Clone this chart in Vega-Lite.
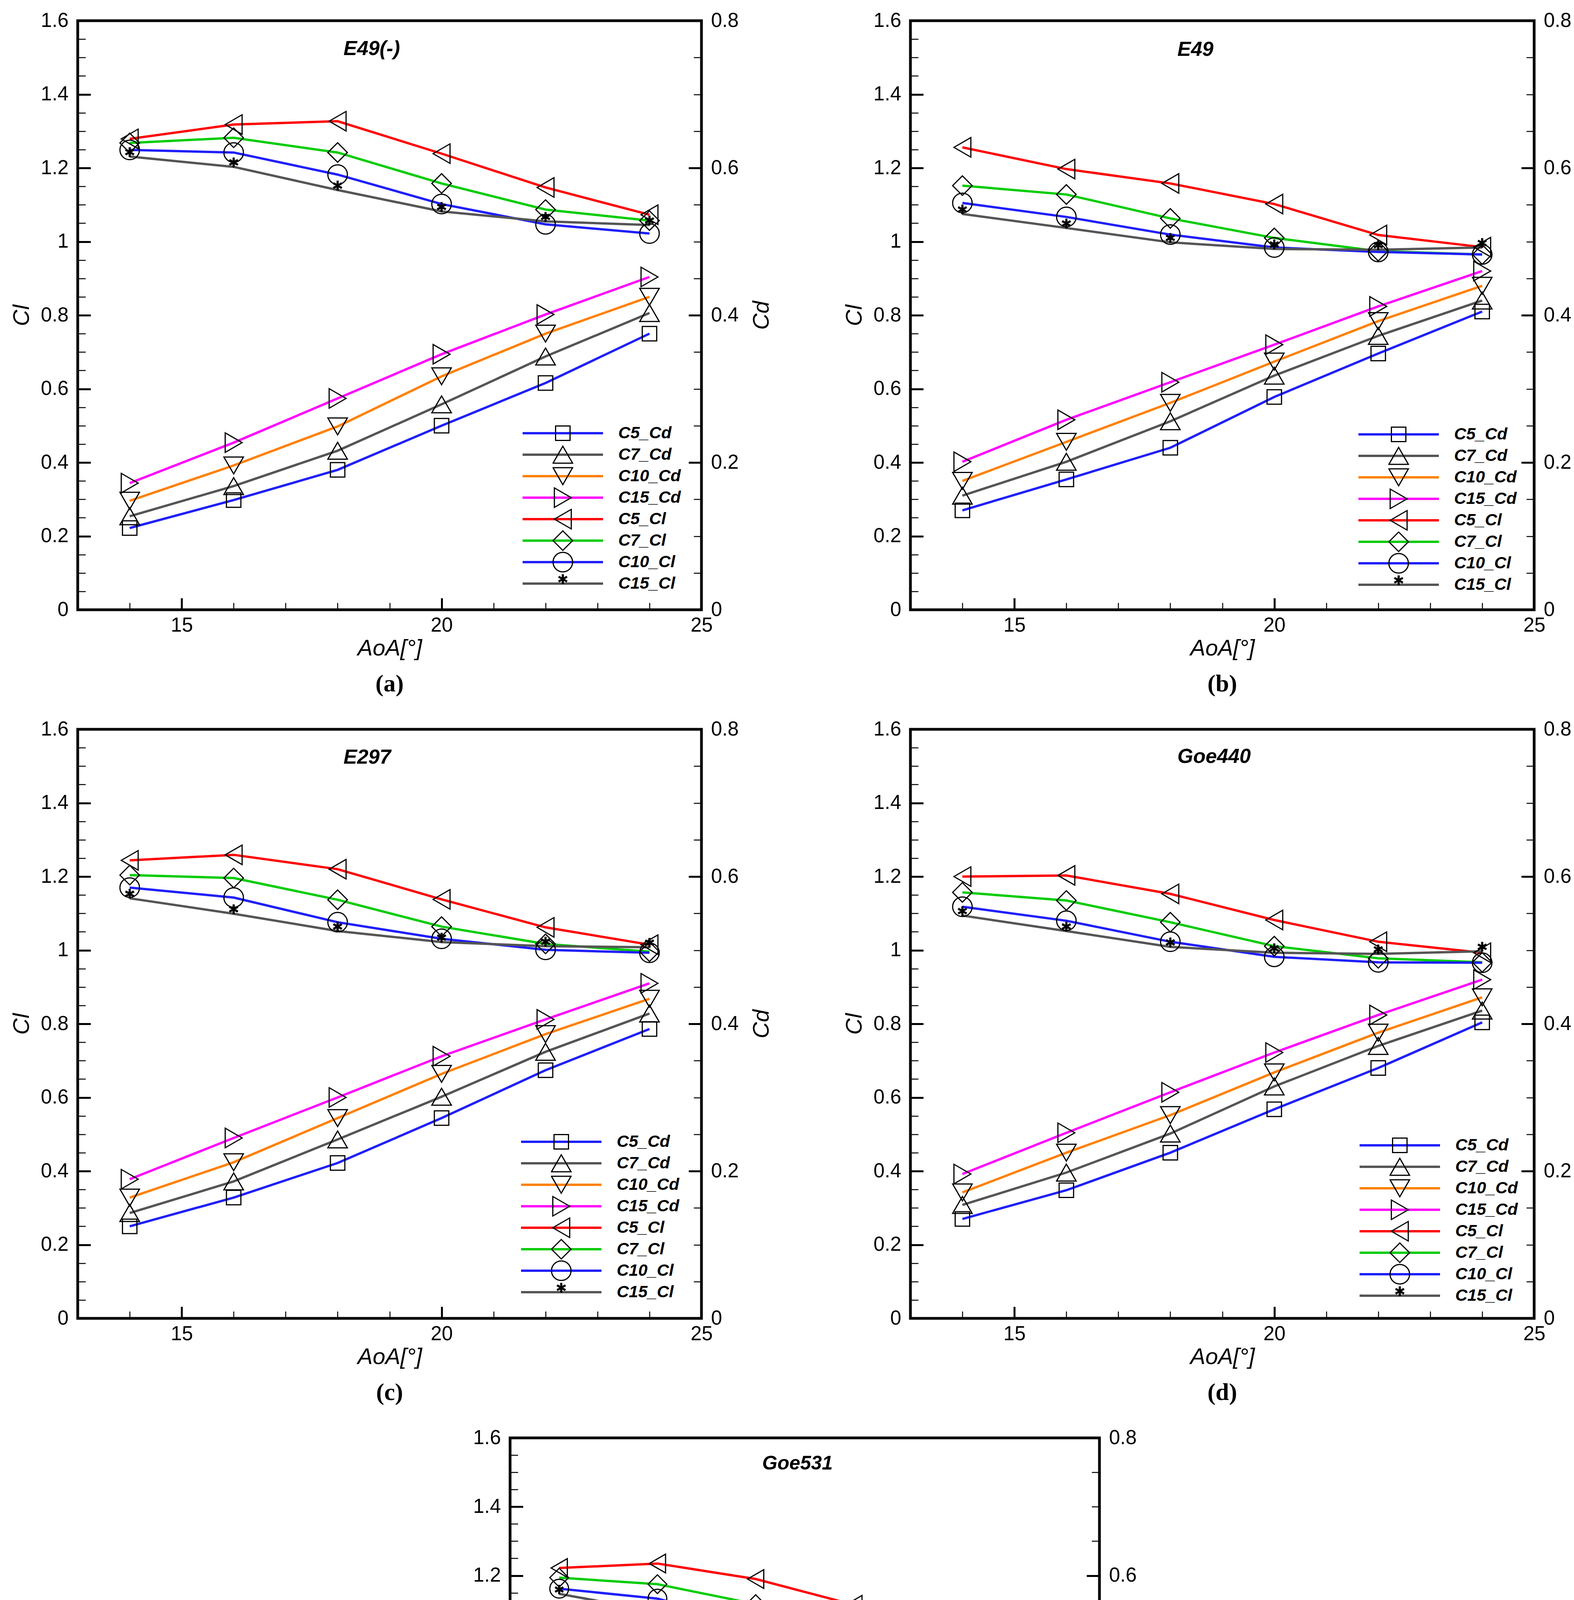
{
  "$schema": "https://vega.github.io/schema/vega-lite/v6.json",
  "description": "Cl and Cd against AoA for five airfoils, four configurations each.",
  "background": "white",
  "padding": {"left": 23, "top": 23, "right": 0, "bottom": 0},
  "datasets": {
    "a_cl": [
      {"aoa": 14, "series": "C5_Cl", "cl": 1.279}, {"aoa": 16, "series": "C5_Cl", "cl": 1.318}, {"aoa": 18, "series": "C5_Cl", "cl": 1.327}, {"aoa": 20, "series": "C5_Cl", "cl": 1.239}, {"aoa": 22, "series": "C5_Cl", "cl": 1.147}, {"aoa": 24, "series": "C5_Cl", "cl": 1.073},
      {"aoa": 14, "series": "C7_Cl", "cl": 1.268}, {"aoa": 16, "series": "C7_Cl", "cl": 1.282}, {"aoa": 18, "series": "C7_Cl", "cl": 1.242}, {"aoa": 20, "series": "C7_Cl", "cl": 1.158}, {"aoa": 22, "series": "C7_Cl", "cl": 1.087}, {"aoa": 24, "series": "C7_Cl", "cl": 1.057},
      {"aoa": 14, "series": "C10_Cl", "cl": 1.249}, {"aoa": 16, "series": "C10_Cl", "cl": 1.242}, {"aoa": 18, "series": "C10_Cl", "cl": 1.182}, {"aoa": 20, "series": "C10_Cl", "cl": 1.102}, {"aoa": 22, "series": "C10_Cl", "cl": 1.047}, {"aoa": 24, "series": "C10_Cl", "cl": 1.022},
      {"aoa": 14, "series": "C15_Cl", "cl": 1.231}, {"aoa": 16, "series": "C15_Cl", "cl": 1.203}, {"aoa": 18, "series": "C15_Cl", "cl": 1.14}, {"aoa": 20, "series": "C15_Cl", "cl": 1.082}, {"aoa": 22, "series": "C15_Cl", "cl": 1.055}, {"aoa": 24, "series": "C15_Cl", "cl": 1.045}
    ],
    "a_cd": [
      {"aoa": 14, "series": "C5_Cd", "cd": 0.111}, {"aoa": 16, "series": "C5_Cd", "cd": 0.149}, {"aoa": 18, "series": "C5_Cd", "cd": 0.19}, {"aoa": 20, "series": "C5_Cd", "cd": 0.25}, {"aoa": 22, "series": "C5_Cd", "cd": 0.308}, {"aoa": 24, "series": "C5_Cd", "cd": 0.375},
      {"aoa": 14, "series": "C7_Cd", "cd": 0.127}, {"aoa": 16, "series": "C7_Cd", "cd": 0.168}, {"aoa": 18, "series": "C7_Cd", "cd": 0.216}, {"aoa": 20, "series": "C7_Cd", "cd": 0.279}, {"aoa": 22, "series": "C7_Cd", "cd": 0.344}, {"aoa": 24, "series": "C7_Cd", "cd": 0.403},
      {"aoa": 14, "series": "C10_Cd", "cd": 0.148}, {"aoa": 16, "series": "C10_Cd", "cd": 0.196}, {"aoa": 18, "series": "C10_Cd", "cd": 0.249}, {"aoa": 20, "series": "C10_Cd", "cd": 0.317}, {"aoa": 22, "series": "C10_Cd", "cd": 0.375}, {"aoa": 24, "series": "C10_Cd", "cd": 0.425},
      {"aoa": 14, "series": "C15_Cd", "cd": 0.172}, {"aoa": 16, "series": "C15_Cd", "cd": 0.227}, {"aoa": 18, "series": "C15_Cd", "cd": 0.287}, {"aoa": 20, "series": "C15_Cd", "cd": 0.347}, {"aoa": 22, "series": "C15_Cd", "cd": 0.401}, {"aoa": 24, "series": "C15_Cd", "cd": 0.452}
    ],
    "b_cl": [
      {"aoa": 14, "series": "C5_Cl", "cl": 1.256}, {"aoa": 16, "series": "C5_Cl", "cl": 1.197}, {"aoa": 18, "series": "C5_Cl", "cl": 1.158}, {"aoa": 20, "series": "C5_Cl", "cl": 1.102}, {"aoa": 22, "series": "C5_Cl", "cl": 1.018}, {"aoa": 24, "series": "C5_Cl", "cl": 0.985},
      {"aoa": 14, "series": "C7_Cl", "cl": 1.152}, {"aoa": 16, "series": "C7_Cl", "cl": 1.128}, {"aoa": 18, "series": "C7_Cl", "cl": 1.063}, {"aoa": 20, "series": "C7_Cl", "cl": 1.01}, {"aoa": 22, "series": "C7_Cl", "cl": 0.974}, {"aoa": 24, "series": "C7_Cl", "cl": 0.965},
      {"aoa": 14, "series": "C10_Cl", "cl": 1.105}, {"aoa": 16, "series": "C10_Cl", "cl": 1.067}, {"aoa": 18, "series": "C10_Cl", "cl": 1.019}, {"aoa": 20, "series": "C10_Cl", "cl": 0.984}, {"aoa": 22, "series": "C10_Cl", "cl": 0.972}, {"aoa": 24, "series": "C10_Cl", "cl": 0.965},
      {"aoa": 14, "series": "C15_Cl", "cl": 1.075}, {"aoa": 16, "series": "C15_Cl", "cl": 1.037}, {"aoa": 18, "series": "C15_Cl", "cl": 0.998}, {"aoa": 20, "series": "C15_Cl", "cl": 0.98}, {"aoa": 22, "series": "C15_Cl", "cl": 0.978}, {"aoa": 24, "series": "C15_Cl", "cl": 0.984}
    ],
    "b_cd": [
      {"aoa": 14, "series": "C5_Cd", "cd": 0.135}, {"aoa": 16, "series": "C5_Cd", "cd": 0.177}, {"aoa": 18, "series": "C5_Cd", "cd": 0.22}, {"aoa": 20, "series": "C5_Cd", "cd": 0.289}, {"aoa": 22, "series": "C5_Cd", "cd": 0.348}, {"aoa": 24, "series": "C5_Cd", "cd": 0.405},
      {"aoa": 14, "series": "C7_Cd", "cd": 0.155}, {"aoa": 16, "series": "C7_Cd", "cd": 0.201}, {"aoa": 18, "series": "C7_Cd", "cd": 0.256}, {"aoa": 20, "series": "C7_Cd", "cd": 0.318}, {"aoa": 22, "series": "C7_Cd", "cd": 0.372}, {"aoa": 24, "series": "C7_Cd", "cd": 0.42},
      {"aoa": 14, "series": "C10_Cd", "cd": 0.175}, {"aoa": 16, "series": "C10_Cd", "cd": 0.228}, {"aoa": 18, "series": "C10_Cd", "cd": 0.281}, {"aoa": 20, "series": "C10_Cd", "cd": 0.337}, {"aoa": 22, "series": "C10_Cd", "cd": 0.392}, {"aoa": 24, "series": "C10_Cd", "cd": 0.44},
      {"aoa": 14, "series": "C15_Cd", "cd": 0.201}, {"aoa": 16, "series": "C15_Cd", "cd": 0.258}, {"aoa": 18, "series": "C15_Cd", "cd": 0.309}, {"aoa": 20, "series": "C15_Cd", "cd": 0.36}, {"aoa": 22, "series": "C15_Cd", "cd": 0.412}, {"aoa": 24, "series": "C15_Cd", "cd": 0.46}
    ],
    "c_cl": [
      {"aoa": 14, "series": "C5_Cl", "cl": 1.244}, {"aoa": 16, "series": "C5_Cl", "cl": 1.259}, {"aoa": 18, "series": "C5_Cl", "cl": 1.22}, {"aoa": 20, "series": "C5_Cl", "cl": 1.138}, {"aoa": 22, "series": "C5_Cl", "cl": 1.062}, {"aoa": 24, "series": "C5_Cl", "cl": 1.015},
      {"aoa": 14, "series": "C7_Cl", "cl": 1.204}, {"aoa": 16, "series": "C7_Cl", "cl": 1.196}, {"aoa": 18, "series": "C7_Cl", "cl": 1.137}, {"aoa": 20, "series": "C7_Cl", "cl": 1.064}, {"aoa": 22, "series": "C7_Cl", "cl": 1.017}, {"aoa": 24, "series": "C7_Cl", "cl": 0.996},
      {"aoa": 14, "series": "C10_Cl", "cl": 1.17}, {"aoa": 16, "series": "C10_Cl", "cl": 1.143}, {"aoa": 18, "series": "C10_Cl", "cl": 1.076}, {"aoa": 20, "series": "C10_Cl", "cl": 1.031}, {"aoa": 22, "series": "C10_Cl", "cl": 1.001}, {"aoa": 24, "series": "C10_Cl", "cl": 0.993},
      {"aoa": 14, "series": "C15_Cl", "cl": 1.141}, {"aoa": 16, "series": "C15_Cl", "cl": 1.099}, {"aoa": 18, "series": "C15_Cl", "cl": 1.052}, {"aoa": 20, "series": "C15_Cl", "cl": 1.022}, {"aoa": 22, "series": "C15_Cl", "cl": 1.011}, {"aoa": 24, "series": "C15_Cl", "cl": 1.008}
    ],
    "c_cd": [
      {"aoa": 14, "series": "C5_Cd", "cd": 0.125}, {"aoa": 16, "series": "C5_Cd", "cd": 0.164}, {"aoa": 18, "series": "C5_Cd", "cd": 0.211}, {"aoa": 20, "series": "C5_Cd", "cd": 0.272}, {"aoa": 22, "series": "C5_Cd", "cd": 0.337}, {"aoa": 24, "series": "C5_Cd", "cd": 0.393},
      {"aoa": 14, "series": "C7_Cd", "cd": 0.143}, {"aoa": 16, "series": "C7_Cd", "cd": 0.186}, {"aoa": 18, "series": "C7_Cd", "cd": 0.243}, {"aoa": 20, "series": "C7_Cd", "cd": 0.301}, {"aoa": 22, "series": "C7_Cd", "cd": 0.362}, {"aoa": 24, "series": "C7_Cd", "cd": 0.414},
      {"aoa": 14, "series": "C10_Cd", "cd": 0.164}, {"aoa": 16, "series": "C10_Cd", "cd": 0.212}, {"aoa": 18, "series": "C10_Cd", "cd": 0.272}, {"aoa": 20, "series": "C10_Cd", "cd": 0.332}, {"aoa": 22, "series": "C10_Cd", "cd": 0.386}, {"aoa": 24, "series": "C10_Cd", "cd": 0.434},
      {"aoa": 14, "series": "C15_Cd", "cd": 0.189}, {"aoa": 16, "series": "C15_Cd", "cd": 0.245}, {"aoa": 18, "series": "C15_Cd", "cd": 0.3}, {"aoa": 20, "series": "C15_Cd", "cd": 0.356}, {"aoa": 22, "series": "C15_Cd", "cd": 0.406}, {"aoa": 24, "series": "C15_Cd", "cd": 0.455}
    ],
    "d_cl": [
      {"aoa": 14, "series": "C5_Cl", "cl": 1.2}, {"aoa": 16, "series": "C5_Cl", "cl": 1.203}, {"aoa": 18, "series": "C5_Cl", "cl": 1.153}, {"aoa": 20, "series": "C5_Cl", "cl": 1.082}, {"aoa": 22, "series": "C5_Cl", "cl": 1.023}, {"aoa": 24, "series": "C5_Cl", "cl": 0.993},
      {"aoa": 14, "series": "C7_Cl", "cl": 1.157}, {"aoa": 16, "series": "C7_Cl", "cl": 1.135}, {"aoa": 18, "series": "C7_Cl", "cl": 1.076}, {"aoa": 20, "series": "C7_Cl", "cl": 1.011}, {"aoa": 22, "series": "C7_Cl", "cl": 0.978}, {"aoa": 24, "series": "C7_Cl", "cl": 0.967},
      {"aoa": 14, "series": "C10_Cl", "cl": 1.118}, {"aoa": 16, "series": "C10_Cl", "cl": 1.08}, {"aoa": 18, "series": "C10_Cl", "cl": 1.023}, {"aoa": 20, "series": "C10_Cl", "cl": 0.982}, {"aoa": 22, "series": "C10_Cl", "cl": 0.967}, {"aoa": 24, "series": "C10_Cl", "cl": 0.966},
      {"aoa": 14, "series": "C15_Cl", "cl": 1.094}, {"aoa": 16, "series": "C15_Cl", "cl": 1.052}, {"aoa": 18, "series": "C15_Cl", "cl": 1.009}, {"aoa": 20, "series": "C15_Cl", "cl": 0.993}, {"aoa": 22, "series": "C15_Cl", "cl": 0.99}, {"aoa": 24, "series": "C15_Cl", "cl": 0.997}
    ],
    "d_cd": [
      {"aoa": 14, "series": "C5_Cd", "cd": 0.135}, {"aoa": 16, "series": "C5_Cd", "cd": 0.174}, {"aoa": 18, "series": "C5_Cd", "cd": 0.225}, {"aoa": 20, "series": "C5_Cd", "cd": 0.284}, {"aoa": 22, "series": "C5_Cd", "cd": 0.34}, {"aoa": 24, "series": "C5_Cd", "cd": 0.402},
      {"aoa": 14, "series": "C7_Cd", "cd": 0.154}, {"aoa": 16, "series": "C7_Cd", "cd": 0.198}, {"aoa": 18, "series": "C7_Cd", "cd": 0.251}, {"aoa": 20, "series": "C7_Cd", "cd": 0.315}, {"aoa": 22, "series": "C7_Cd", "cd": 0.37}, {"aoa": 24, "series": "C7_Cd", "cd": 0.418},
      {"aoa": 14, "series": "C10_Cd", "cd": 0.171}, {"aoa": 16, "series": "C10_Cd", "cd": 0.225}, {"aoa": 18, "series": "C10_Cd", "cd": 0.276}, {"aoa": 20, "series": "C10_Cd", "cd": 0.334}, {"aoa": 22, "series": "C10_Cd", "cd": 0.388}, {"aoa": 24, "series": "C10_Cd", "cd": 0.436},
      {"aoa": 14, "series": "C15_Cd", "cd": 0.196}, {"aoa": 16, "series": "C15_Cd", "cd": 0.252}, {"aoa": 18, "series": "C15_Cd", "cd": 0.307}, {"aoa": 20, "series": "C15_Cd", "cd": 0.361}, {"aoa": 22, "series": "C15_Cd", "cd": 0.412}, {"aoa": 24, "series": "C15_Cd", "cd": 0.46}
    ],
    "e_cl": [
      {"aoa": 14, "series": "C5_Cl", "cl": 1.222}, {"aoa": 16, "series": "C5_Cl", "cl": 1.235}, {"aoa": 18, "series": "C5_Cl", "cl": 1.19}, {"aoa": 20, "series": "C5_Cl", "cl": 1.115}, {"aoa": 22, "series": "C5_Cl", "cl": 1.079}, {"aoa": 24, "series": "C5_Cl", "cl": 1.003},
      {"aoa": 14, "series": "C7_Cl", "cl": 1.194}, {"aoa": 16, "series": "C7_Cl", "cl": 1.175}, {"aoa": 18, "series": "C7_Cl", "cl": 1.117}, {"aoa": 20, "series": "C7_Cl", "cl": 1.045}, {"aoa": 22, "series": "C7_Cl", "cl": 1.0}, {"aoa": 24, "series": "C7_Cl", "cl": 0.974},
      {"aoa": 14, "series": "C10_Cl", "cl": 1.162}, {"aoa": 16, "series": "C10_Cl", "cl": 1.133}, {"aoa": 18, "series": "C10_Cl", "cl": 1.06}, {"aoa": 20, "series": "C10_Cl", "cl": 1.009}, {"aoa": 22, "series": "C10_Cl", "cl": 0.986}, {"aoa": 24, "series": "C10_Cl", "cl": 0.98},
      {"aoa": 14, "series": "C15_Cl", "cl": 1.147}, {"aoa": 16, "series": "C15_Cl", "cl": 1.095}, {"aoa": 18, "series": "C15_Cl", "cl": 1.038}, {"aoa": 20, "series": "C15_Cl", "cl": 1.009}, {"aoa": 22, "series": "C15_Cl", "cl": 0.996}, {"aoa": 24, "series": "C15_Cl", "cl": 1.0}
    ],
    "e_cd": [
      {"aoa": 14, "series": "C5_Cd", "cd": 0.119}, {"aoa": 16, "series": "C5_Cd", "cd": 0.167}, {"aoa": 18, "series": "C5_Cd", "cd": 0.214}, {"aoa": 20, "series": "C5_Cd", "cd": 0.275}, {"aoa": 22, "series": "C5_Cd", "cd": 0.337}, {"aoa": 24, "series": "C5_Cd", "cd": 0.393},
      {"aoa": 14, "series": "C7_Cd", "cd": 0.145}, {"aoa": 16, "series": "C7_Cd", "cd": 0.188}, {"aoa": 18, "series": "C7_Cd", "cd": 0.243}, {"aoa": 20, "series": "C7_Cd", "cd": 0.305}, {"aoa": 22, "series": "C7_Cd", "cd": 0.365}, {"aoa": 24, "series": "C7_Cd", "cd": 0.411},
      {"aoa": 14, "series": "C10_Cd", "cd": 0.163}, {"aoa": 16, "series": "C10_Cd", "cd": 0.213}, {"aoa": 18, "series": "C10_Cd", "cd": 0.271}, {"aoa": 20, "series": "C10_Cd", "cd": 0.332}, {"aoa": 22, "series": "C10_Cd", "cd": 0.382}, {"aoa": 24, "series": "C10_Cd", "cd": 0.429},
      {"aoa": 14, "series": "C15_Cd", "cd": 0.183}, {"aoa": 16, "series": "C15_Cd", "cd": 0.24}, {"aoa": 18, "series": "C15_Cd", "cd": 0.297}, {"aoa": 20, "series": "C15_Cd", "cd": 0.353}, {"aoa": 22, "series": "C15_Cd", "cd": 0.404}, {"aoa": 24, "series": "C15_Cd", "cd": 0.453}
    ]
  },
  "vconcat": [
    {
      "hconcat": [
        {
          "width": 1597, "height": 1508,
          "title": {"text": "(a)", "orient": "bottom", "frame": "group", "anchor": "middle", "offset": 32, "font": "Liberation Serif", "fontSize": 62, "fontWeight": "bold", "color": "black"},
          "layer": [
            {
              "data": {"name": "a_cd"},
              "layer": [
                {
                  "mark": {"type": "line", "strokeWidth": 6},
                  "encoding": {
                    "x": {"field": "aoa", "type": "quantitative", "scale": {"domain": [13, 25], "nice": false, "zero": false},
                      "axis": {"orient": "top", "title": "E49(-)", "ticks": false, "labels": false, "domain": false, "titleX": 680, "titleY": 71, "titleAlign": "left", "titleBaseline": "middle", "titleAngle": 0, "titleFontSize": 52, "titleFontWeight": "bold", "titleFontStyle": "italic"}},
                    "y": {"field": "cd", "type": "quantitative", "scale": {"domain": [0, 0.8], "nice": false, "zero": false},
                      "axis": {"orient": "right", "title": "Cd", "titleAngle": 270, "titleBaseline": "top", "values": [0, 0.2, 0.4, 0.6, 0.8], "tickSize": -33, "tickWidth": 5, "labelPadding": 57, "titlePadding": 31, "labelFlush": false, "labelOverlap": false, "labelExpr": "toString(datum.value)"}},
                    "color": {"field": "series", "type": "nominal",
                      "scale": {"domain": ["C5_Cd", "C7_Cd", "C10_Cd", "C15_Cd", "C5_Cl", "C7_Cl", "C10_Cl", "C15_Cl"], "range": ["#1f1ffa", "#555555", "#ff8000", "#ff00ff", "#ff0000", "#00cc00", "#1f1ffa", "#555555"]},
                      "legend": {"orient": "none", "direction": "vertical", "legendX": 1136, "legendY": 1028.5, "title": null, "symbolType": "stroke", "symbolSize": 42436, "symbolStrokeWidth": 6, "clipHeight": 55, "rowPadding": 0, "padding": 0, "labelOffset": 36, "labelFontSize": 43, "labelLimit": 500}}
                  }
                },
                {
                  "mark": {"type": "point", "filled": false, "color": "black", "strokeWidth": 3, "size": 2500, "opacity": 1},
                  "encoding": {
                    "x": {"field": "aoa", "type": "quantitative", "scale": {"domain": [13, 25], "nice": false, "zero": false}, "axis": null},
                    "y": {"field": "cd", "type": "quantitative", "scale": {"domain": [0, 0.8], "nice": false, "zero": false},
                      "axis": {"orient": "right", "title": null, "labels": false, "values": [0.05, 0.1, 0.15, 0.25, 0.3, 0.35, 0.45, 0.5, 0.55, 0.65, 0.7, 0.75], "tickSize": -20, "tickWidth": 2.5}},
                    "shape": {"field": "series", "type": "nominal",
                      "scale": {"domain": ["C5_Cd", "C7_Cd", "C10_Cd", "C15_Cd", "C5_Cl", "C7_Cl", "C10_Cl", "C15_Cl", "~"], "range": ["M-0.74,-0.74L0.74,-0.74L0.74,0.74L-0.74,0.74Z", "triangle-up", "triangle-down", "triangle-right", "triangle-left", "diamond", "circle", "M-0.05,-0.9L0.05,-0.9L0.05,-0.02L-0.05,-0.02ZM0.356,-0.197L0.406,-0.283L-0.356,-0.723L-0.406,-0.637ZM0.406,-0.637L0.356,-0.723L-0.406,-0.283L-0.356,-0.197Z", "M0,0"]},
                      "legend": {"orient": "none", "direction": "vertical", "legendX": 1215.5, "legendY": 1028.5, "title": null, "symbolSize": 2500, "symbolStrokeWidth": 3, "symbolStrokeColor": "black", "symbolFillColor": "transparent", "clipHeight": 55, "rowPadding": 0, "padding": 0, "labelOffset": 36, "labelFontSize": 43, "labelExpr": "''", "labelLimit": 500}}
                  }
                }
              ],
              "resolve": {"axis": {"x": "independent", "y": "independent"}}
            },
            {
              "data": {"name": "a_cl"},
              "layer": [
                {
                  "mark": {"type": "line", "strokeWidth": 6},
                  "encoding": {
                    "x": {"field": "aoa", "type": "quantitative", "scale": {"domain": [13, 25], "nice": false, "zero": false},
                      "axis": {"orient": "bottom", "title": "AoA[°]", "values": [15, 20, 25], "tickSize": -30, "tickWidth": 5, "labelPadding": 45, "titlePadding": 5, "labelFlush": false, "labelOverlap": false, "labelExpr": "toString(datum.value)"}},
                    "y": {"field": "cl", "type": "quantitative", "scale": {"domain": [0, 1.6], "nice": false, "zero": false},
                      "axis": {"orient": "left", "title": "Cl", "values": [0, 0.2, 0.4, 0.6, 0.8, 1, 1.2, 1.4, 1.6], "tickSize": -33, "tickWidth": 5, "labelPadding": 57, "titlePadding": 19, "labelFlush": false, "labelOverlap": false, "labelExpr": "toString(datum.value)"}},
                    "color": {"field": "series", "type": "nominal",
                      "scale": {"domain": ["C5_Cd", "C7_Cd", "C10_Cd", "C15_Cd", "C5_Cl", "C7_Cl", "C10_Cl", "C15_Cl"], "range": ["#1f1ffa", "#555555", "#ff8000", "#ff00ff", "#ff0000", "#00cc00", "#1f1ffa", "#555555"]},
                      "legend": {"orient": "none", "direction": "vertical", "legendX": 1136, "legendY": 1028.5, "title": null, "symbolType": "stroke", "symbolSize": 42436, "symbolStrokeWidth": 6, "clipHeight": 55, "rowPadding": 0, "padding": 0, "labelOffset": 36, "labelFontSize": 43, "labelLimit": 500}}
                  }
                },
                {
                  "mark": {"type": "point", "filled": false, "color": "black", "strokeWidth": 3, "size": 2500, "opacity": 1},
                  "encoding": {
                    "x": {"field": "aoa", "type": "quantitative", "scale": {"domain": [13, 25], "nice": false, "zero": false},
                      "axis": {"orient": "bottom", "title": null, "labels": false, "values": [14, 16, 17, 18, 19, 21, 22, 23, 24], "tickSize": -18, "tickWidth": 2.5}},
                    "y": {"field": "cl", "type": "quantitative", "scale": {"domain": [0, 1.6], "nice": false, "zero": false},
                      "axis": {"orient": "left", "title": null, "labels": false, "values": [0.05, 0.1, 0.15, 0.25, 0.3, 0.35, 0.45, 0.5, 0.55, 0.65, 0.7, 0.75, 0.85, 0.9, 0.95, 1.05, 1.1, 1.15, 1.25, 1.3, 1.35, 1.45, 1.5, 1.55], "tickSize": -20, "tickWidth": 2.5}},
                    "shape": {"field": "series", "type": "nominal",
                      "scale": {"domain": ["C5_Cd", "C7_Cd", "C10_Cd", "C15_Cd", "C5_Cl", "C7_Cl", "C10_Cl", "C15_Cl", "~"], "range": ["M-0.74,-0.74L0.74,-0.74L0.74,0.74L-0.74,0.74Z", "triangle-up", "triangle-down", "triangle-right", "triangle-left", "diamond", "circle", "M-0.05,-0.9L0.05,-0.9L0.05,-0.02L-0.05,-0.02ZM0.356,-0.197L0.406,-0.283L-0.356,-0.723L-0.406,-0.637ZM0.406,-0.637L0.356,-0.723L-0.406,-0.283L-0.356,-0.197Z", "M0,0"]},
                      "legend": {"orient": "none", "direction": "vertical", "legendX": 1215.5, "legendY": 1028.5, "title": null, "symbolSize": 2500, "symbolStrokeWidth": 3, "symbolStrokeColor": "black", "symbolFillColor": "transparent", "clipHeight": 55, "rowPadding": 0, "padding": 0, "labelOffset": 36, "labelFontSize": 43, "labelExpr": "''", "labelLimit": 500}}
                  }
                }
              ],
              "resolve": {"axis": {"x": "independent", "y": "independent"}}
            }
          ],
          "resolve": {"scale": {"y": "independent"}, "axis": {"x": "independent"}}
        },
        {
          "width": 1597, "height": 1508,
          "title": {"text": "(b)", "orient": "bottom", "frame": "group", "anchor": "middle", "offset": 32, "font": "Liberation Serif", "fontSize": 62, "fontWeight": "bold", "color": "black"},
          "layer": [
            {
              "data": {"name": "b_cd"},
              "layer": [
                {
                  "mark": {"type": "line", "strokeWidth": 6},
                  "encoding": {
                    "x": {"field": "aoa", "type": "quantitative", "scale": {"domain": [13, 25], "nice": false, "zero": false},
                      "axis": {"orient": "top", "title": "E49", "ticks": false, "labels": false, "domain": false, "titleX": 683, "titleY": 73, "titleAlign": "left", "titleBaseline": "middle", "titleAngle": 0, "titleFontSize": 52, "titleFontWeight": "bold", "titleFontStyle": "italic"}},
                    "y": {"field": "cd", "type": "quantitative", "scale": {"domain": [0, 0.8], "nice": false, "zero": false},
                      "axis": {"orient": "right", "title": null, "values": [0, 0.2, 0.4, 0.6, 0.8], "tickSize": -33, "tickWidth": 5, "labelPadding": 57, "labelFlush": false, "labelOverlap": false, "labelExpr": "toString(datum.value)"}},
                    "color": {"field": "series", "type": "nominal",
                      "scale": {"domain": ["C5_Cd", "C7_Cd", "C10_Cd", "C15_Cd", "C5_Cl", "C7_Cl", "C10_Cl", "C15_Cl"], "range": ["#1f1ffa", "#555555", "#ff8000", "#ff00ff", "#ff0000", "#00cc00", "#1f1ffa", "#555555"]},
                      "legend": {"orient": "none", "direction": "vertical", "legendX": 1144, "legendY": 1031.5, "title": null, "symbolType": "stroke", "symbolSize": 42436, "symbolStrokeWidth": 6, "clipHeight": 55, "rowPadding": 0, "padding": 0, "labelOffset": 36, "labelFontSize": 43, "labelLimit": 500}}
                  }
                },
                {
                  "mark": {"type": "point", "filled": false, "color": "black", "strokeWidth": 3, "size": 2500, "opacity": 1},
                  "encoding": {
                    "x": {"field": "aoa", "type": "quantitative", "scale": {"domain": [13, 25], "nice": false, "zero": false}, "axis": null},
                    "y": {"field": "cd", "type": "quantitative", "scale": {"domain": [0, 0.8], "nice": false, "zero": false},
                      "axis": {"orient": "right", "title": null, "labels": false, "values": [0.05, 0.1, 0.15, 0.25, 0.3, 0.35, 0.45, 0.5, 0.55, 0.65, 0.7, 0.75], "tickSize": -20, "tickWidth": 2.5}},
                    "shape": {"field": "series", "type": "nominal",
                      "scale": {"domain": ["C5_Cd", "C7_Cd", "C10_Cd", "C15_Cd", "C5_Cl", "C7_Cl", "C10_Cl", "C15_Cl", "~"], "range": ["M-0.74,-0.74L0.74,-0.74L0.74,0.74L-0.74,0.74Z", "triangle-up", "triangle-down", "triangle-right", "triangle-left", "diamond", "circle", "M-0.05,-0.9L0.05,-0.9L0.05,-0.02L-0.05,-0.02ZM0.356,-0.197L0.406,-0.283L-0.356,-0.723L-0.406,-0.637ZM0.406,-0.637L0.356,-0.723L-0.406,-0.283L-0.356,-0.197Z", "M0,0"]},
                      "legend": {"orient": "none", "direction": "vertical", "legendX": 1223.5, "legendY": 1031.5, "title": null, "symbolSize": 2500, "symbolStrokeWidth": 3, "symbolStrokeColor": "black", "symbolFillColor": "transparent", "clipHeight": 55, "rowPadding": 0, "padding": 0, "labelOffset": 36, "labelFontSize": 43, "labelExpr": "''", "labelLimit": 500}}
                  }
                }
              ],
              "resolve": {"axis": {"x": "independent", "y": "independent"}}
            },
            {
              "data": {"name": "b_cl"},
              "layer": [
                {
                  "mark": {"type": "line", "strokeWidth": 6},
                  "encoding": {
                    "x": {"field": "aoa", "type": "quantitative", "scale": {"domain": [13, 25], "nice": false, "zero": false},
                      "axis": {"orient": "bottom", "title": "AoA[°]", "values": [15, 20, 25], "tickSize": -30, "tickWidth": 5, "labelPadding": 45, "titlePadding": 5, "labelFlush": false, "labelOverlap": false, "labelExpr": "toString(datum.value)"}},
                    "y": {"field": "cl", "type": "quantitative", "scale": {"domain": [0, 1.6], "nice": false, "zero": false},
                      "axis": {"orient": "left", "title": "Cl", "values": [0, 0.2, 0.4, 0.6, 0.8, 1, 1.2, 1.4, 1.6], "tickSize": -33, "tickWidth": 5, "labelPadding": 57, "titlePadding": 19, "labelFlush": false, "labelOverlap": false, "labelExpr": "toString(datum.value)"}},
                    "color": {"field": "series", "type": "nominal",
                      "scale": {"domain": ["C5_Cd", "C7_Cd", "C10_Cd", "C15_Cd", "C5_Cl", "C7_Cl", "C10_Cl", "C15_Cl"], "range": ["#1f1ffa", "#555555", "#ff8000", "#ff00ff", "#ff0000", "#00cc00", "#1f1ffa", "#555555"]},
                      "legend": {"orient": "none", "direction": "vertical", "legendX": 1144, "legendY": 1031.5, "title": null, "symbolType": "stroke", "symbolSize": 42436, "symbolStrokeWidth": 6, "clipHeight": 55, "rowPadding": 0, "padding": 0, "labelOffset": 36, "labelFontSize": 43, "labelLimit": 500}}
                  }
                },
                {
                  "mark": {"type": "point", "filled": false, "color": "black", "strokeWidth": 3, "size": 2500, "opacity": 1},
                  "encoding": {
                    "x": {"field": "aoa", "type": "quantitative", "scale": {"domain": [13, 25], "nice": false, "zero": false},
                      "axis": {"orient": "bottom", "title": null, "labels": false, "values": [14, 16, 17, 18, 19, 21, 22, 23, 24], "tickSize": -18, "tickWidth": 2.5}},
                    "y": {"field": "cl", "type": "quantitative", "scale": {"domain": [0, 1.6], "nice": false, "zero": false},
                      "axis": {"orient": "left", "title": null, "labels": false, "values": [0.05, 0.1, 0.15, 0.25, 0.3, 0.35, 0.45, 0.5, 0.55, 0.65, 0.7, 0.75, 0.85, 0.9, 0.95, 1.05, 1.1, 1.15, 1.25, 1.3, 1.35, 1.45, 1.5, 1.55], "tickSize": -20, "tickWidth": 2.5}},
                    "shape": {"field": "series", "type": "nominal",
                      "scale": {"domain": ["C5_Cd", "C7_Cd", "C10_Cd", "C15_Cd", "C5_Cl", "C7_Cl", "C10_Cl", "C15_Cl", "~"], "range": ["M-0.74,-0.74L0.74,-0.74L0.74,0.74L-0.74,0.74Z", "triangle-up", "triangle-down", "triangle-right", "triangle-left", "diamond", "circle", "M-0.05,-0.9L0.05,-0.9L0.05,-0.02L-0.05,-0.02ZM0.356,-0.197L0.406,-0.283L-0.356,-0.723L-0.406,-0.637ZM0.406,-0.637L0.356,-0.723L-0.406,-0.283L-0.356,-0.197Z", "M0,0"]},
                      "legend": {"orient": "none", "direction": "vertical", "legendX": 1223.5, "legendY": 1031.5, "title": null, "symbolSize": 2500, "symbolStrokeWidth": 3, "symbolStrokeColor": "black", "symbolFillColor": "transparent", "clipHeight": 55, "rowPadding": 0, "padding": 0, "labelOffset": 36, "labelFontSize": 43, "labelExpr": "''", "labelLimit": 500}}
                  }
                }
              ],
              "resolve": {"axis": {"x": "independent", "y": "independent"}}
            }
          ],
          "resolve": {"scale": {"y": "independent"}, "axis": {"x": "independent"}}
        }
      ],
      "spacing": 171,
      "resolve": {"scale": {"color": "independent", "shape": "independent"}}
    },
    {
      "hconcat": [
        {
          "width": 1597, "height": 1508,
          "title": {"text": "(c)", "orient": "bottom", "frame": "group", "anchor": "middle", "offset": 32, "font": "Liberation Serif", "fontSize": 62, "fontWeight": "bold", "color": "black"},
          "layer": [
            {
              "data": {"name": "c_cd"},
              "layer": [
                {
                  "mark": {"type": "line", "strokeWidth": 6},
                  "encoding": {
                    "x": {"field": "aoa", "type": "quantitative", "scale": {"domain": [13, 25], "nice": false, "zero": false},
                      "axis": {"orient": "top", "title": "E297", "ticks": false, "labels": false, "domain": false, "titleX": 680, "titleY": 71, "titleAlign": "left", "titleBaseline": "middle", "titleAngle": 0, "titleFontSize": 52, "titleFontWeight": "bold", "titleFontStyle": "italic"}},
                    "y": {"field": "cd", "type": "quantitative", "scale": {"domain": [0, 0.8], "nice": false, "zero": false},
                      "axis": {"orient": "right", "title": "Cd", "titleAngle": 270, "titleBaseline": "top", "values": [0, 0.2, 0.4, 0.6, 0.8], "tickSize": -33, "tickWidth": 5, "labelPadding": 57, "titlePadding": 31, "labelFlush": false, "labelOverlap": false, "labelExpr": "toString(datum.value)"}},
                    "color": {"field": "series", "type": "nominal",
                      "scale": {"domain": ["C5_Cd", "C7_Cd", "C10_Cd", "C15_Cd", "C5_Cl", "C7_Cl", "C10_Cl", "C15_Cl"], "range": ["#1f1ffa", "#555555", "#ff8000", "#ff00ff", "#ff0000", "#00cc00", "#1f1ffa", "#555555"]},
                      "legend": {"orient": "none", "direction": "vertical", "legendX": 1132, "legendY": 1028.5, "title": null, "symbolType": "stroke", "symbolSize": 42436, "symbolStrokeWidth": 6, "clipHeight": 55, "rowPadding": 0, "padding": 0, "labelOffset": 36, "labelFontSize": 43, "labelLimit": 500}}
                  }
                },
                {
                  "mark": {"type": "point", "filled": false, "color": "black", "strokeWidth": 3, "size": 2500, "opacity": 1},
                  "encoding": {
                    "x": {"field": "aoa", "type": "quantitative", "scale": {"domain": [13, 25], "nice": false, "zero": false}, "axis": null},
                    "y": {"field": "cd", "type": "quantitative", "scale": {"domain": [0, 0.8], "nice": false, "zero": false},
                      "axis": {"orient": "right", "title": null, "labels": false, "values": [0.05, 0.1, 0.15, 0.25, 0.3, 0.35, 0.45, 0.5, 0.55, 0.65, 0.7, 0.75], "tickSize": -20, "tickWidth": 2.5}},
                    "shape": {"field": "series", "type": "nominal",
                      "scale": {"domain": ["C5_Cd", "C7_Cd", "C10_Cd", "C15_Cd", "C5_Cl", "C7_Cl", "C10_Cl", "C15_Cl", "~"], "range": ["M-0.74,-0.74L0.74,-0.74L0.74,0.74L-0.74,0.74Z", "triangle-up", "triangle-down", "triangle-right", "triangle-left", "diamond", "circle", "M-0.05,-0.9L0.05,-0.9L0.05,-0.02L-0.05,-0.02ZM0.356,-0.197L0.406,-0.283L-0.356,-0.723L-0.406,-0.637ZM0.406,-0.637L0.356,-0.723L-0.406,-0.283L-0.356,-0.197Z", "M0,0"]},
                      "legend": {"orient": "none", "direction": "vertical", "legendX": 1211.5, "legendY": 1028.5, "title": null, "symbolSize": 2500, "symbolStrokeWidth": 3, "symbolStrokeColor": "black", "symbolFillColor": "transparent", "clipHeight": 55, "rowPadding": 0, "padding": 0, "labelOffset": 36, "labelFontSize": 43, "labelExpr": "''", "labelLimit": 500}}
                  }
                }
              ],
              "resolve": {"axis": {"x": "independent", "y": "independent"}}
            },
            {
              "data": {"name": "c_cl"},
              "layer": [
                {
                  "mark": {"type": "line", "strokeWidth": 6},
                  "encoding": {
                    "x": {"field": "aoa", "type": "quantitative", "scale": {"domain": [13, 25], "nice": false, "zero": false},
                      "axis": {"orient": "bottom", "title": "AoA[°]", "values": [15, 20, 25], "tickSize": -30, "tickWidth": 5, "labelPadding": 45, "titlePadding": 5, "labelFlush": false, "labelOverlap": false, "labelExpr": "toString(datum.value)"}},
                    "y": {"field": "cl", "type": "quantitative", "scale": {"domain": [0, 1.6], "nice": false, "zero": false},
                      "axis": {"orient": "left", "title": "Cl", "values": [0, 0.2, 0.4, 0.6, 0.8, 1, 1.2, 1.4, 1.6], "tickSize": -33, "tickWidth": 5, "labelPadding": 57, "titlePadding": 19, "labelFlush": false, "labelOverlap": false, "labelExpr": "toString(datum.value)"}},
                    "color": {"field": "series", "type": "nominal",
                      "scale": {"domain": ["C5_Cd", "C7_Cd", "C10_Cd", "C15_Cd", "C5_Cl", "C7_Cl", "C10_Cl", "C15_Cl"], "range": ["#1f1ffa", "#555555", "#ff8000", "#ff00ff", "#ff0000", "#00cc00", "#1f1ffa", "#555555"]},
                      "legend": {"orient": "none", "direction": "vertical", "legendX": 1132, "legendY": 1028.5, "title": null, "symbolType": "stroke", "symbolSize": 42436, "symbolStrokeWidth": 6, "clipHeight": 55, "rowPadding": 0, "padding": 0, "labelOffset": 36, "labelFontSize": 43, "labelLimit": 500}}
                  }
                },
                {
                  "mark": {"type": "point", "filled": false, "color": "black", "strokeWidth": 3, "size": 2500, "opacity": 1},
                  "encoding": {
                    "x": {"field": "aoa", "type": "quantitative", "scale": {"domain": [13, 25], "nice": false, "zero": false},
                      "axis": {"orient": "bottom", "title": null, "labels": false, "values": [14, 16, 17, 18, 19, 21, 22, 23, 24], "tickSize": -18, "tickWidth": 2.5}},
                    "y": {"field": "cl", "type": "quantitative", "scale": {"domain": [0, 1.6], "nice": false, "zero": false},
                      "axis": {"orient": "left", "title": null, "labels": false, "values": [0.05, 0.1, 0.15, 0.25, 0.3, 0.35, 0.45, 0.5, 0.55, 0.65, 0.7, 0.75, 0.85, 0.9, 0.95, 1.05, 1.1, 1.15, 1.25, 1.3, 1.35, 1.45, 1.5, 1.55], "tickSize": -20, "tickWidth": 2.5}},
                    "shape": {"field": "series", "type": "nominal",
                      "scale": {"domain": ["C5_Cd", "C7_Cd", "C10_Cd", "C15_Cd", "C5_Cl", "C7_Cl", "C10_Cl", "C15_Cl", "~"], "range": ["M-0.74,-0.74L0.74,-0.74L0.74,0.74L-0.74,0.74Z", "triangle-up", "triangle-down", "triangle-right", "triangle-left", "diamond", "circle", "M-0.05,-0.9L0.05,-0.9L0.05,-0.02L-0.05,-0.02ZM0.356,-0.197L0.406,-0.283L-0.356,-0.723L-0.406,-0.637ZM0.406,-0.637L0.356,-0.723L-0.406,-0.283L-0.356,-0.197Z", "M0,0"]},
                      "legend": {"orient": "none", "direction": "vertical", "legendX": 1211.5, "legendY": 1028.5, "title": null, "symbolSize": 2500, "symbolStrokeWidth": 3, "symbolStrokeColor": "black", "symbolFillColor": "transparent", "clipHeight": 55, "rowPadding": 0, "padding": 0, "labelOffset": 36, "labelFontSize": 43, "labelExpr": "''", "labelLimit": 500}}
                  }
                }
              ],
              "resolve": {"axis": {"x": "independent", "y": "independent"}}
            }
          ],
          "resolve": {"scale": {"y": "independent"}, "axis": {"x": "independent"}}
        },
        {
          "width": 1597, "height": 1508,
          "title": {"text": "(d)", "orient": "bottom", "frame": "group", "anchor": "middle", "offset": 32, "font": "Liberation Serif", "fontSize": 62, "fontWeight": "bold", "color": "black"},
          "layer": [
            {
              "data": {"name": "d_cd"},
              "layer": [
                {
                  "mark": {"type": "line", "strokeWidth": 6},
                  "encoding": {
                    "x": {"field": "aoa", "type": "quantitative", "scale": {"domain": [13, 25], "nice": false, "zero": false},
                      "axis": {"orient": "top", "title": "Goe440", "ticks": false, "labels": false, "domain": false, "titleX": 683, "titleY": 69, "titleAlign": "left", "titleBaseline": "middle", "titleAngle": 0, "titleFontSize": 52, "titleFontWeight": "bold", "titleFontStyle": "italic"}},
                    "y": {"field": "cd", "type": "quantitative", "scale": {"domain": [0, 0.8], "nice": false, "zero": false},
                      "axis": {"orient": "right", "title": null, "values": [0, 0.2, 0.4, 0.6, 0.8], "tickSize": -33, "tickWidth": 5, "labelPadding": 57, "labelFlush": false, "labelOverlap": false, "labelExpr": "toString(datum.value)"}},
                    "color": {"field": "series", "type": "nominal",
                      "scale": {"domain": ["C5_Cd", "C7_Cd", "C10_Cd", "C15_Cd", "C5_Cl", "C7_Cl", "C10_Cl", "C15_Cl"], "range": ["#1f1ffa", "#555555", "#ff8000", "#ff00ff", "#ff0000", "#00cc00", "#1f1ffa", "#555555"]},
                      "legend": {"orient": "none", "direction": "vertical", "legendX": 1147, "legendY": 1037.5, "title": null, "symbolType": "stroke", "symbolSize": 42436, "symbolStrokeWidth": 6, "clipHeight": 55, "rowPadding": 0, "padding": 0, "labelOffset": 36, "labelFontSize": 43, "labelLimit": 500}}
                  }
                },
                {
                  "mark": {"type": "point", "filled": false, "color": "black", "strokeWidth": 3, "size": 2500, "opacity": 1},
                  "encoding": {
                    "x": {"field": "aoa", "type": "quantitative", "scale": {"domain": [13, 25], "nice": false, "zero": false}, "axis": null},
                    "y": {"field": "cd", "type": "quantitative", "scale": {"domain": [0, 0.8], "nice": false, "zero": false},
                      "axis": {"orient": "right", "title": null, "labels": false, "values": [0.05, 0.1, 0.15, 0.25, 0.3, 0.35, 0.45, 0.5, 0.55, 0.65, 0.7, 0.75], "tickSize": -20, "tickWidth": 2.5}},
                    "shape": {"field": "series", "type": "nominal",
                      "scale": {"domain": ["C5_Cd", "C7_Cd", "C10_Cd", "C15_Cd", "C5_Cl", "C7_Cl", "C10_Cl", "C15_Cl", "~"], "range": ["M-0.74,-0.74L0.74,-0.74L0.74,0.74L-0.74,0.74Z", "triangle-up", "triangle-down", "triangle-right", "triangle-left", "diamond", "circle", "M-0.05,-0.9L0.05,-0.9L0.05,-0.02L-0.05,-0.02ZM0.356,-0.197L0.406,-0.283L-0.356,-0.723L-0.406,-0.637ZM0.406,-0.637L0.356,-0.723L-0.406,-0.283L-0.356,-0.197Z", "M0,0"]},
                      "legend": {"orient": "none", "direction": "vertical", "legendX": 1226.5, "legendY": 1037.5, "title": null, "symbolSize": 2500, "symbolStrokeWidth": 3, "symbolStrokeColor": "black", "symbolFillColor": "transparent", "clipHeight": 55, "rowPadding": 0, "padding": 0, "labelOffset": 36, "labelFontSize": 43, "labelExpr": "''", "labelLimit": 500}}
                  }
                }
              ],
              "resolve": {"axis": {"x": "independent", "y": "independent"}}
            },
            {
              "data": {"name": "d_cl"},
              "layer": [
                {
                  "mark": {"type": "line", "strokeWidth": 6},
                  "encoding": {
                    "x": {"field": "aoa", "type": "quantitative", "scale": {"domain": [13, 25], "nice": false, "zero": false},
                      "axis": {"orient": "bottom", "title": "AoA[°]", "values": [15, 20, 25], "tickSize": -30, "tickWidth": 5, "labelPadding": 45, "titlePadding": 5, "labelFlush": false, "labelOverlap": false, "labelExpr": "toString(datum.value)"}},
                    "y": {"field": "cl", "type": "quantitative", "scale": {"domain": [0, 1.6], "nice": false, "zero": false},
                      "axis": {"orient": "left", "title": "Cl", "values": [0, 0.2, 0.4, 0.6, 0.8, 1, 1.2, 1.4, 1.6], "tickSize": -33, "tickWidth": 5, "labelPadding": 57, "titlePadding": 19, "labelFlush": false, "labelOverlap": false, "labelExpr": "toString(datum.value)"}},
                    "color": {"field": "series", "type": "nominal",
                      "scale": {"domain": ["C5_Cd", "C7_Cd", "C10_Cd", "C15_Cd", "C5_Cl", "C7_Cl", "C10_Cl", "C15_Cl"], "range": ["#1f1ffa", "#555555", "#ff8000", "#ff00ff", "#ff0000", "#00cc00", "#1f1ffa", "#555555"]},
                      "legend": {"orient": "none", "direction": "vertical", "legendX": 1147, "legendY": 1037.5, "title": null, "symbolType": "stroke", "symbolSize": 42436, "symbolStrokeWidth": 6, "clipHeight": 55, "rowPadding": 0, "padding": 0, "labelOffset": 36, "labelFontSize": 43, "labelLimit": 500}}
                  }
                },
                {
                  "mark": {"type": "point", "filled": false, "color": "black", "strokeWidth": 3, "size": 2500, "opacity": 1},
                  "encoding": {
                    "x": {"field": "aoa", "type": "quantitative", "scale": {"domain": [13, 25], "nice": false, "zero": false},
                      "axis": {"orient": "bottom", "title": null, "labels": false, "values": [14, 16, 17, 18, 19, 21, 22, 23, 24], "tickSize": -18, "tickWidth": 2.5}},
                    "y": {"field": "cl", "type": "quantitative", "scale": {"domain": [0, 1.6], "nice": false, "zero": false},
                      "axis": {"orient": "left", "title": null, "labels": false, "values": [0.05, 0.1, 0.15, 0.25, 0.3, 0.35, 0.45, 0.5, 0.55, 0.65, 0.7, 0.75, 0.85, 0.9, 0.95, 1.05, 1.1, 1.15, 1.25, 1.3, 1.35, 1.45, 1.5, 1.55], "tickSize": -20, "tickWidth": 2.5}},
                    "shape": {"field": "series", "type": "nominal",
                      "scale": {"domain": ["C5_Cd", "C7_Cd", "C10_Cd", "C15_Cd", "C5_Cl", "C7_Cl", "C10_Cl", "C15_Cl", "~"], "range": ["M-0.74,-0.74L0.74,-0.74L0.74,0.74L-0.74,0.74Z", "triangle-up", "triangle-down", "triangle-right", "triangle-left", "diamond", "circle", "M-0.05,-0.9L0.05,-0.9L0.05,-0.02L-0.05,-0.02ZM0.356,-0.197L0.406,-0.283L-0.356,-0.723L-0.406,-0.637ZM0.406,-0.637L0.356,-0.723L-0.406,-0.283L-0.356,-0.197Z", "M0,0"]},
                      "legend": {"orient": "none", "direction": "vertical", "legendX": 1226.5, "legendY": 1037.5, "title": null, "symbolSize": 2500, "symbolStrokeWidth": 3, "symbolStrokeColor": "black", "symbolFillColor": "transparent", "clipHeight": 55, "rowPadding": 0, "padding": 0, "labelOffset": 36, "labelFontSize": 43, "labelExpr": "''", "labelLimit": 500}}
                  }
                }
              ],
              "resolve": {"axis": {"x": "independent", "y": "independent"}}
            }
          ],
          "resolve": {"scale": {"y": "independent"}, "axis": {"x": "independent"}}
        }
      ],
      "spacing": 171,
      "resolve": {"scale": {"color": "independent", "shape": "independent"}}
    },
    {
      "hconcat": [
        {
          "width": 931, "height": 10,
          "view": {"stroke": null},
          "data": {"values": []},
          "mark": "point"
        },
        {
          "width": 1509, "height": 1410,
          "title": {"text": "(e)", "orient": "bottom", "frame": "group", "anchor": "middle", "offset": 25, "font": "Liberation Serif", "fontSize": 62, "fontWeight": "bold", "color": "black"},
          "layer": [
            {
              "data": {"name": "e_cd"},
              "layer": [
                {
                  "mark": {"type": "line", "strokeWidth": 6},
                  "encoding": {
                    "x": {"field": "aoa", "type": "quantitative", "scale": {"domain": [13, 25], "nice": false, "zero": false},
                      "axis": {"orient": "top", "title": "Goe531", "ticks": false, "labels": false, "domain": false, "titleX": 645, "titleY": 65, "titleAlign": "left", "titleBaseline": "middle", "titleAngle": 0, "titleFontSize": 50, "titleFontWeight": "bold", "titleFontStyle": "italic"}},
                    "y": {"field": "cd", "type": "quantitative", "scale": {"domain": [0, 0.8], "nice": false, "zero": false},
                      "axis": {"orient": "right", "title": "Cd", "titleAngle": 270, "titleBaseline": "top", "values": [0, 0.2, 0.4, 0.6, 0.8], "tickSize": -33, "tickWidth": 5, "labelPadding": 57, "titlePadding": 31, "labelFlush": false, "labelOverlap": false, "labelExpr": "toString(datum.value)"}},
                    "color": {"field": "series", "type": "nominal",
                      "scale": {"domain": ["C5_Cd", "C7_Cd", "C10_Cd", "C15_Cd", "C5_Cl", "C7_Cl", "C10_Cl", "C15_Cl"], "range": ["#1f1ffa", "#555555", "#ff8000", "#ff00ff", "#ff0000", "#00cc00", "#1f1ffa", "#555555"]},
                      "legend": {"orient": "none", "direction": "vertical", "legendX": 1072, "legendY": 975, "title": null, "symbolType": "stroke", "symbolSize": 37636, "symbolStrokeWidth": 6, "clipHeight": 52, "rowPadding": 0, "padding": 0, "labelOffset": 36, "labelFontSize": 41, "labelLimit": 500}}
                  }
                },
                {
                  "mark": {"type": "point", "filled": false, "color": "black", "strokeWidth": 3, "size": 2300, "opacity": 1},
                  "encoding": {
                    "x": {"field": "aoa", "type": "quantitative", "scale": {"domain": [13, 25], "nice": false, "zero": false}, "axis": null},
                    "y": {"field": "cd", "type": "quantitative", "scale": {"domain": [0, 0.8], "nice": false, "zero": false},
                      "axis": {"orient": "right", "title": null, "labels": false, "values": [0.05, 0.1, 0.15, 0.25, 0.3, 0.35, 0.45, 0.5, 0.55, 0.65, 0.7, 0.75], "tickSize": -20, "tickWidth": 2.5}},
                    "shape": {"field": "series", "type": "nominal",
                      "scale": {"domain": ["C5_Cd", "C7_Cd", "C10_Cd", "C15_Cd", "C5_Cl", "C7_Cl", "C10_Cl", "C15_Cl", "~"], "range": ["M-0.74,-0.74L0.74,-0.74L0.74,0.74L-0.74,0.74Z", "triangle-up", "triangle-down", "triangle-right", "triangle-left", "diamond", "circle", "M-0.05,-0.9L0.05,-0.9L0.05,-0.02L-0.05,-0.02ZM0.356,-0.197L0.406,-0.283L-0.356,-0.723L-0.406,-0.637ZM0.406,-0.637L0.356,-0.723L-0.406,-0.283L-0.356,-0.197Z", "M0,0"]},
                      "legend": {"orient": "none", "direction": "vertical", "legendX": 1146, "legendY": 975, "title": null, "symbolSize": 2300, "symbolStrokeWidth": 3, "symbolStrokeColor": "black", "symbolFillColor": "transparent", "clipHeight": 52, "rowPadding": 0, "padding": 0, "labelOffset": 36, "labelFontSize": 41, "labelExpr": "''", "labelLimit": 500}}
                  }
                }
              ],
              "resolve": {"axis": {"x": "independent", "y": "independent"}}
            },
            {
              "data": {"name": "e_cl"},
              "layer": [
                {
                  "mark": {"type": "line", "strokeWidth": 6},
                  "encoding": {
                    "x": {"field": "aoa", "type": "quantitative", "scale": {"domain": [13, 25], "nice": false, "zero": false},
                      "axis": {"orient": "bottom", "title": "AoA[°]", "values": [15, 20, 25], "tickSize": -30, "tickWidth": 5, "labelPadding": 45, "titlePadding": 5, "labelFlush": false, "labelOverlap": false, "labelExpr": "toString(datum.value)"}},
                    "y": {"field": "cl", "type": "quantitative", "scale": {"domain": [0, 1.6], "nice": false, "zero": false},
                      "axis": {"orient": "left", "title": "Cl", "values": [0, 0.2, 0.4, 0.6, 0.8, 1, 1.2, 1.4, 1.6], "tickSize": -33, "tickWidth": 5, "labelPadding": 57, "titlePadding": 19, "labelFlush": false, "labelOverlap": false, "labelExpr": "toString(datum.value)"}},
                    "color": {"field": "series", "type": "nominal",
                      "scale": {"domain": ["C5_Cd", "C7_Cd", "C10_Cd", "C15_Cd", "C5_Cl", "C7_Cl", "C10_Cl", "C15_Cl"], "range": ["#1f1ffa", "#555555", "#ff8000", "#ff00ff", "#ff0000", "#00cc00", "#1f1ffa", "#555555"]},
                      "legend": {"orient": "none", "direction": "vertical", "legendX": 1072, "legendY": 975, "title": null, "symbolType": "stroke", "symbolSize": 37636, "symbolStrokeWidth": 6, "clipHeight": 52, "rowPadding": 0, "padding": 0, "labelOffset": 36, "labelFontSize": 41, "labelLimit": 500}}
                  }
                },
                {
                  "mark": {"type": "point", "filled": false, "color": "black", "strokeWidth": 3, "size": 2300, "opacity": 1},
                  "encoding": {
                    "x": {"field": "aoa", "type": "quantitative", "scale": {"domain": [13, 25], "nice": false, "zero": false},
                      "axis": {"orient": "bottom", "title": null, "labels": false, "values": [14, 16, 17, 18, 19, 21, 22, 23, 24], "tickSize": -18, "tickWidth": 2.5}},
                    "y": {"field": "cl", "type": "quantitative", "scale": {"domain": [0, 1.6], "nice": false, "zero": false},
                      "axis": {"orient": "left", "title": null, "labels": false, "values": [0.05, 0.1, 0.15, 0.25, 0.3, 0.35, 0.45, 0.5, 0.55, 0.65, 0.7, 0.75, 0.85, 0.9, 0.95, 1.05, 1.1, 1.15, 1.25, 1.3, 1.35, 1.45, 1.5, 1.55], "tickSize": -20, "tickWidth": 2.5}},
                    "shape": {"field": "series", "type": "nominal",
                      "scale": {"domain": ["C5_Cd", "C7_Cd", "C10_Cd", "C15_Cd", "C5_Cl", "C7_Cl", "C10_Cl", "C15_Cl", "~"], "range": ["M-0.74,-0.74L0.74,-0.74L0.74,0.74L-0.74,0.74Z", "triangle-up", "triangle-down", "triangle-right", "triangle-left", "diamond", "circle", "M-0.05,-0.9L0.05,-0.9L0.05,-0.02L-0.05,-0.02ZM0.356,-0.197L0.406,-0.283L-0.356,-0.723L-0.406,-0.637ZM0.406,-0.637L0.356,-0.723L-0.406,-0.283L-0.356,-0.197Z", "M0,0"]},
                      "legend": {"orient": "none", "direction": "vertical", "legendX": 1146, "legendY": 975, "title": null, "symbolSize": 2300, "symbolStrokeWidth": 3, "symbolStrokeColor": "black", "symbolFillColor": "transparent", "clipHeight": 52, "rowPadding": 0, "padding": 0, "labelOffset": 36, "labelFontSize": 41, "labelExpr": "''", "labelLimit": 500}}
                  }
                }
              ],
              "resolve": {"axis": {"x": "independent", "y": "independent"}}
            }
          ],
          "resolve": {"scale": {"y": "independent"}, "axis": {"x": "independent"}}
        }
      ],
      "spacing": 0,
      "resolve": {"scale": {"color": "independent", "shape": "independent"}}
    }
  ],
  "spacing": 51,
  "resolve": {"scale": {"color": "independent", "shape": "independent"}},
  "config": {
    "font": "Liberation Sans",
    "view": {"stroke": "black", "strokeWidth": 7},
    "axis": {"labelFont": "Liberation Sans", "labelFontSize": 51, "labelColor": "black", "titleFont": "Liberation Sans", "titleFontSize": 58, "titleFontStyle": "italic", "titleFontWeight": "normal", "titleColor": "black", "tickColor": "black", "domain": false, "grid": false},
    "legend": {"labelFont": "Liberation Sans", "labelFontWeight": "bold", "labelFontStyle": "italic", "labelColor": "black"}
  }
}
